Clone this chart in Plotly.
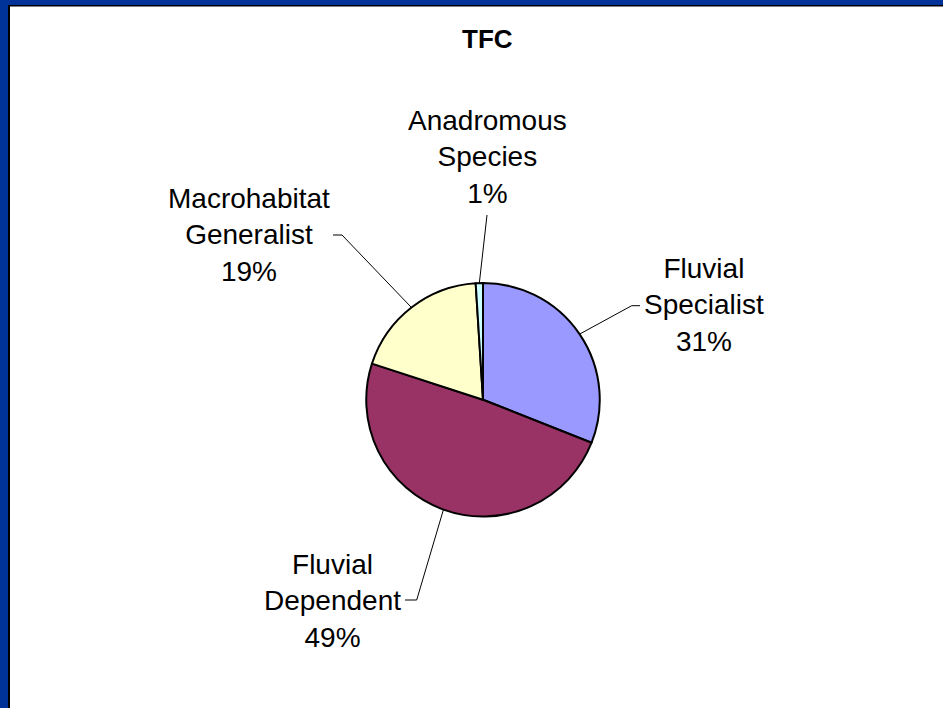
import math
import plotly.graph_objects as go

# ---- data ----
categories = ["Fluvial Specialist", "Fluvial Dependent", "Macrohabitat Generalist", "Anadromous Species"]
label_text = ["Fluvial<br>Specialist", "Fluvial<br>Dependent", "Macrohabitat<br>Generalist", "Anadromous<br>Species"]
values = [31, 49, 19, 1]
colors = ["#9999FF", "#993366", "#FFFFCC", "#CCFFFF"]
title_text = "TFC"

W, H = 943, 708
FONT = "Liberation Sans, Arial, sans-serif"

# pie geometry (pixels)
cx, cy, r = 483.0, 399.75, 116.75


def px(x):
    return x / W


def py(y):
    return 1 - y / H


fig = go.Figure()
fig.add_trace(go.Pie(
    labels=categories,
    values=values,
    sort=False,
    direction="clockwise",
    rotation=0,
    marker=dict(colors=colors, line=dict(color="black", width=2)),
    textinfo="none",
    hoverinfo="label+percent",
    showlegend=False,
    domain=dict(x=[px(cx - r), px(cx + r)], y=[py(cy + r), py(cy - r)]),
))

total = sum(values)
cum = 0
mids = []
for v in values:
    mids.append((cum + v / 2) / total)
    cum += v

# label placement (pixels): center x, center y, leader path points near label
label_pos = [
    (704, 305, [(640, 305.7), (631.7, 305.7)]),
    (332, 601, [(405, 600), (416.7, 600)]),
    (249, 235, [(333, 235), (342, 235)]),
    (487.5, 157, [(487, 215)]),
]

annotations = []
shapes = []
for i, (lx, ly, pts) in enumerate(label_pos):
    pct = round(100 * values[i] / total)
    annotations.append(dict(
        x=px(lx), y=py(ly), xref="paper", yref="paper",
        text=f"{label_text[i]}<br>{pct}%", showarrow=False,
        xanchor="center", yanchor="middle", align="center",
        font=dict(family=FONT, size=28, color="black"),
    ))
    th = 2 * math.pi * mids[i]
    ex = cx + r * math.sin(th)
    ey = cy - r * math.cos(th)
    all_pts = pts + [(ex, ey)]
    path = "M " + " L ".join(f"{px(a)},{py(b)}" for a, b in all_pts)
    shapes.append(dict(type="path", path=path, xref="paper", yref="paper",
                       line=dict(color="black", width=1)))

# title
annotations.append(dict(
    x=px(487), y=py(39), xref="paper", yref="paper", text=f"<b>{title_text}</b>",
    showarrow=False, xanchor="center", yanchor="middle",
    font=dict(family=FONT, size=26, color="black"),
))

# frame: blue band on top and left with dark inner edge
blue = "#003399"
shapes += [
    dict(type="rect", xref="paper", yref="paper", x0=0, x1=1, y0=py(5), y1=1,
         fillcolor=blue, line=dict(width=0)),
    dict(type="rect", xref="paper", yref="paper", x0=0, x1=px(8), y0=0, y1=1,
         fillcolor=blue, line=dict(width=0)),
    dict(type="line", xref="paper", yref="paper", x0=px(8), x1=1, y0=py(5.75), y1=py(5.75),
         line=dict(color="black", width=1.5)),
    dict(type="line", xref="paper", yref="paper", x0=px(9), x1=px(9), y0=0, y1=py(5),
         line=dict(color="black", width=2)),
]

fig.update_layout(
    width=W, height=H,
    margin=dict(l=0, r=0, t=0, b=0),
    paper_bgcolor="white", plot_bgcolor="white",
    annotations=annotations, shapes=shapes,
)

fig.write_html(
    "out.html",
    config={"displayModeBar": False},
    post_script="document.body.style.margin='0';document.body.style.overflow='hidden';",
)
